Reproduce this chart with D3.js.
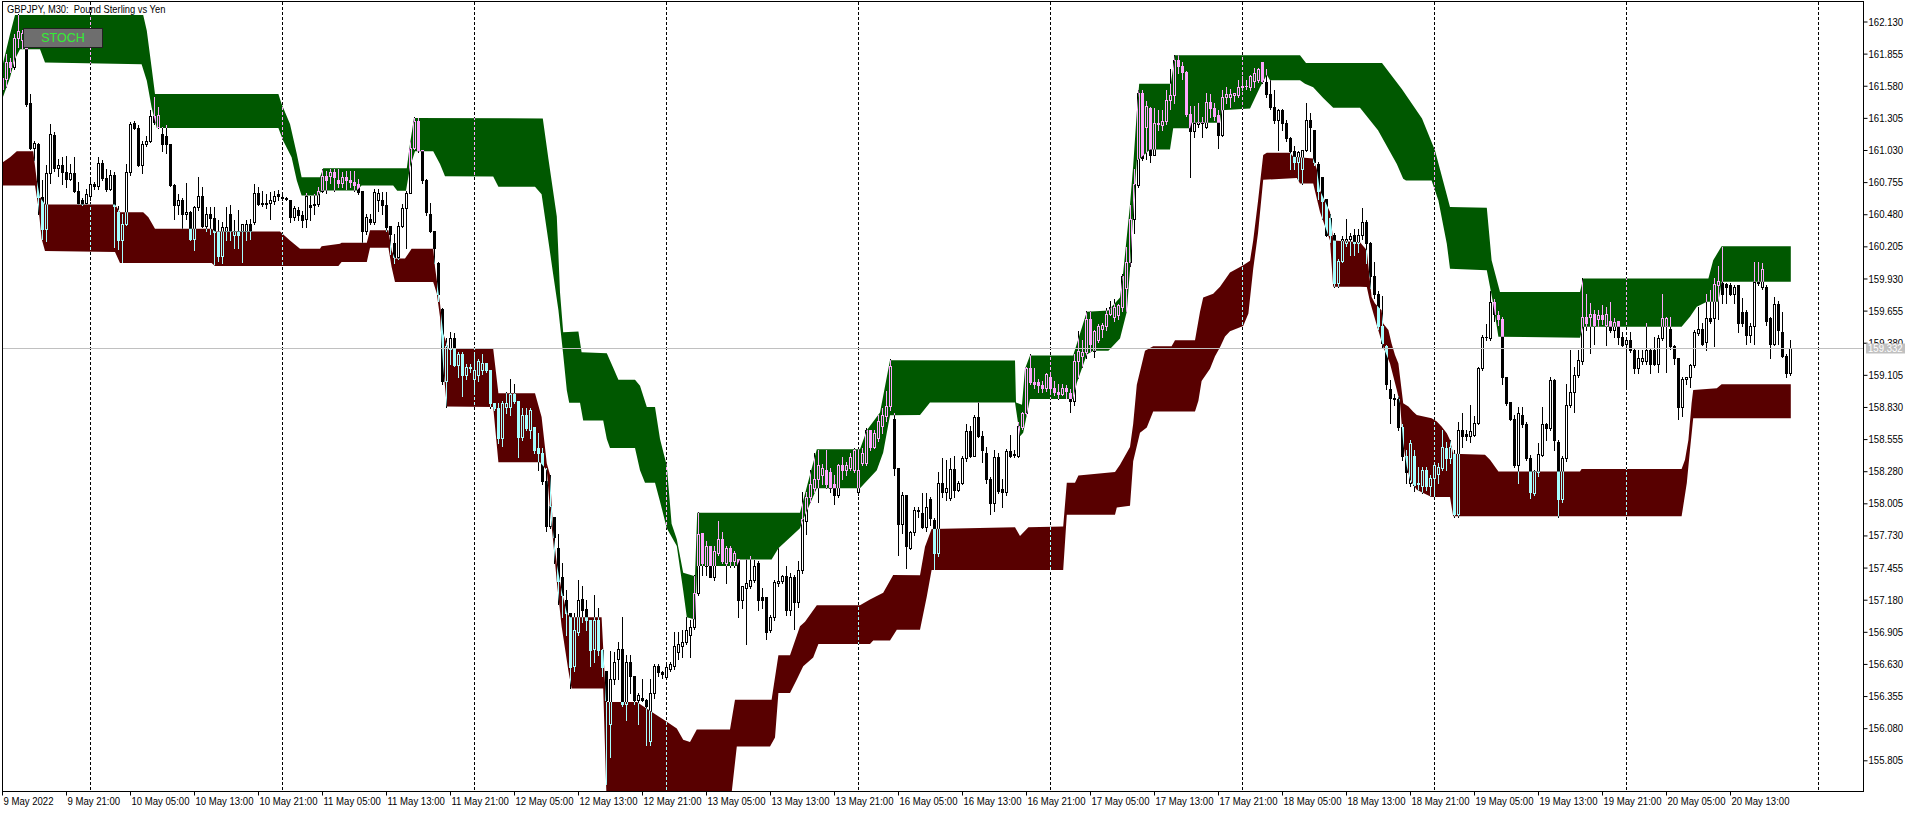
<!DOCTYPE html>
<html lang="en">
<head>
<meta charset="UTF-8">
<title>GBPJPY, M30</title>
<script src="https://cdnjs.cloudflare.com/ajax/libs/d3/7.8.5/d3.min.js"></script>
<style>
  html, body { margin: 0; padding: 0; background: #fff; overflow: hidden; }
  svg { display: block; }
  text { font-family: "Liberation Sans", Arial, sans-serif; }
</style>
</head>
<body>
<div id="chart"></div>
<script>
// M30 candles, one array per trading day, rows are [open, high, low, close]
var may09 = [
  [161.55,161.70,161.49,161.65],[161.64,161.85,161.57,161.78],[161.78,161.82,161.70,161.74],[161.74,162.02,161.72,161.99],
  [161.99,162.19,161.91,162.05],[161.97,162.06,161.90,162.03],[161.90,161.93,161.41,161.42],[161.43,161.51,161.04,161.05],
  [161.05,161.11,160.94,161.09],[161.08,161.09,160.48,160.63],[160.63,160.77,160.27,160.35],[160.35,160.90,160.25,160.83],
  [160.83,161.25,160.75,161.17],[161.16,161.18,160.85,160.88],[160.88,160.95,160.81,160.90],[160.90,160.97,160.74,160.84],
  [160.84,160.98,160.71,160.78],[160.78,160.91,160.77,160.83],[160.83,160.97,160.67,160.68],[160.68,160.76,160.57,160.58],
  [160.60,160.62,160.56,160.57],[160.58,160.70,160.57,160.65]
];
var may10 = [
  [160.64,160.80,160.60,160.74],[160.74,160.76,160.70,160.72],[160.72,160.97,160.70,160.92],[160.92,160.94,160.77,160.79],
  [160.79,160.87,160.68,160.70],[160.70,160.86,160.69,160.82],[160.82,160.84,160.20,160.55],[160.50,160.55,160.18,160.26],
  [160.26,160.48,160.07,160.40],[160.40,160.91,160.39,160.84],[160.84,161.27,160.82,161.25],[161.26,161.28,161.21,161.22],
  [161.22,161.24,160.89,160.90],[160.90,161.11,160.83,161.08],[161.08,161.15,161.06,161.11],[161.11,161.37,161.10,161.32],
  [161.32,161.48,161.25,161.27],[161.23,161.40,161.22,161.33],[161.17,161.23,161.02,161.08],[161.15,161.24,161.00,161.08],
  [161.08,161.08,160.72,160.73],[160.73,160.74,160.44,160.56],[160.56,160.65,160.48,160.60],[160.60,160.62,160.36,160.48],
  [160.48,160.75,160.44,160.50],[160.50,160.51,160.26,160.27],[160.27,160.55,160.17,160.54],[160.54,160.80,160.52,160.64],
  [160.64,160.71,160.37,160.38],[160.38,160.54,160.34,160.48],[160.48,160.54,160.31,160.45],[160.45,160.54,160.05,160.33],
  [160.33,160.43,160.08,160.12],[160.12,160.41,160.06,160.37],[160.34,160.54,160.26,160.37],[160.48,160.56,160.26,160.34],
  [160.30,160.43,160.19,160.34],[160.34,160.52,160.19,160.30],[160.34,160.40,160.07,160.40],[160.34,160.43,160.26,160.40],
  [160.40,160.44,160.27,160.34],[160.41,160.74,160.40,160.66],[160.66,160.71,160.56,160.57],[160.57,160.68,160.55,160.58],
  [160.57,160.65,160.53,160.58],[160.58,160.67,160.44,160.60],[160.59,160.68,160.57,160.64],[160.65,160.69,160.60,160.64]
];
var may11 = [
  [160.63,160.67,160.60,160.62],[160.62,160.63,160.60,160.61],[160.60,160.60,160.41,160.46],[160.46,160.55,160.43,160.53],
  [160.52,160.54,160.43,160.47],[160.47,160.51,160.37,160.43],[160.44,160.66,160.37,160.64],[160.56,160.64,160.43,160.54],
  [160.56,160.65,160.48,160.57],[160.57,160.71,160.55,160.68],[160.68,160.87,160.67,160.81],[160.81,160.85,160.66,160.77],
  [160.81,160.87,160.75,160.84],[160.84,160.87,160.68,160.80],[160.77,160.87,160.71,160.75],[160.75,160.84,160.71,160.80],
  [160.80,160.85,160.70,160.77],[160.77,160.85,160.71,160.76],[160.76,160.85,160.68,160.73],[160.74,160.78,160.65,160.67],
  [160.68,160.68,160.24,160.34],[160.34,160.48,160.31,160.46],[160.44,160.48,160.40,160.41],[160.41,160.70,160.40,160.67],
  [160.60,160.70,160.51,160.66],[160.60,160.67,160.48,160.56],[160.56,160.67,160.34,160.37],[160.38,160.38,160.14,160.31],
  [160.23,160.31,160.06,160.11],[160.11,160.41,160.10,160.38],[160.38,160.57,160.37,160.53],[160.53,160.68,160.19,160.66],
  [160.66,161.11,160.66,161.05],[161.05,161.31,161.04,161.28],[161.28,161.30,161.01,161.03],[161.03,161.03,160.75,160.77],
  [160.77,160.78,160.47,160.50],[160.48,160.58,160.33,160.34],[160.34,160.34,160.06,160.19],[160.06,160.07,159.74,159.80],
  [159.67,159.68,159.03,159.05],[159.05,159.42,158.83,159.35],[159.33,159.47,159.20,159.42],[159.42,159.46,159.18,159.19],
  [159.19,159.30,159.09,159.28],[159.28,159.30,158.92,159.10],[159.10,159.20,159.07,159.17],[159.17,159.20,159.13,159.16]
];
var may12 = [
  [159.07,159.28,158.94,159.15],[159.10,159.24,159.05,159.22],[159.15,159.28,159.11,159.21],[159.21,159.21,159.13,159.15],
  [159.15,159.15,158.82,158.86],[158.86,158.86,158.80,158.82],[158.82,158.86,158.52,158.56],[158.56,158.88,158.50,158.86],
  [158.83,158.96,158.78,158.86],[158.83,159.07,158.76,158.94],[158.94,159.03,158.86,158.88],[158.88,158.88,158.40,158.57],
  [158.57,158.82,158.55,158.76],[158.76,158.82,158.63,158.65],[158.63,158.82,158.56,158.80],[158.66,158.66,158.44,158.46],
  [158.48,158.61,158.29,158.44],[158.44,158.48,158.17,158.20],[158.20,158.31,157.77,157.81],[157.81,158.25,157.79,157.98],
  [157.89,157.89,157.49,157.72],[157.62,157.74,157.14,157.34],[157.37,157.49,157.03,157.22],[157.18,157.26,156.88,157.07],
  [157.07,157.07,156.42,156.60],[156.61,157.07,156.57,156.92],[156.90,157.35,156.88,157.18],[157.19,157.30,156.99,157.09],
  [157.10,157.18,156.92,157.01],[157.01,157.01,156.61,156.75],[156.76,157.22,156.65,157.01],[157.01,157.11,156.71,156.75],
  [156.75,156.76,156.53,156.60],[156.57,156.57,155.60,156.32],[156.12,156.74,155.83,156.50],[156.50,156.73,156.46,156.65],
  [156.67,156.82,156.50,156.76],[156.76,157.03,156.27,156.29],[156.29,156.71,156.15,156.65],[156.65,156.71,156.38,156.53],
  [156.53,156.53,156.29,156.32],[156.32,156.38,156.12,156.36],[156.34,156.50,156.31,156.32],[156.32,156.33,155.94,156.27],
  [155.97,156.50,155.94,156.38],[156.38,156.63,156.34,156.61],[156.61,156.63,156.53,156.56],[156.56,156.57,156.51,156.54]
];
var may13 = [
  [156.52,156.65,156.50,156.60],[156.59,156.65,156.57,156.63],[156.61,156.90,156.59,156.78],[156.73,156.90,156.67,156.80],
  [156.78,156.92,156.69,156.82],[156.82,157.03,156.80,156.92],[156.88,157.01,156.69,156.95],[156.95,157.39,156.93,157.24],
  [157.24,157.93,157.22,157.74],[157.75,157.75,157.39,157.49],[157.47,157.68,157.39,157.64],[157.64,157.64,157.37,157.37],
  [157.37,157.64,157.35,157.60],[157.58,157.85,157.56,157.70],[157.70,157.76,157.49,157.51],[157.49,157.64,157.32,157.62],
  [157.62,157.64,157.46,157.51],[157.51,157.60,157.46,157.58],[157.53,157.53,157.03,157.18],[157.18,157.30,157.11,157.30],
  [157.28,157.53,156.80,157.32],[157.30,157.55,157.28,157.35],[157.35,157.52,157.33,157.47],[157.49,157.51,157.09,157.18],
  [157.20,157.28,157.11,157.18],[157.20,157.20,156.84,156.90],[156.92,157.05,156.90,157.03],[157.03,157.35,157.01,157.33],
  [157.32,157.62,157.30,157.34],[157.34,157.39,157.32,157.38],[157.38,157.47,157.05,157.09],[157.09,157.41,157.05,157.37],
  [157.37,157.39,156.93,157.16],[157.16,157.51,157.12,157.43],[157.43,158.10,157.41,157.87],[157.85,158.10,157.74,158.06],
  [158.06,158.29,158.02,158.17],[158.14,158.44,158.10,158.21],[158.21,158.46,158.02,158.33],[158.25,158.34,158.17,158.31],
  [158.29,158.46,158.14,158.17],[158.27,158.31,158.10,158.14],[158.17,158.25,158.00,158.08],[158.08,158.34,158.06,158.33],
  [158.33,158.40,158.21,158.29],[158.29,158.36,158.25,158.33],[158.31,158.44,158.29,158.40],[158.29,158.48,158.27,158.46]
];
var may16 = [
  [158.10,158.48,158.08,158.29],[158.35,158.48,158.33,158.44],[158.35,158.65,158.33,158.63],[158.63,158.63,158.46,158.49],
  [158.49,158.63,158.48,158.61],[158.56,158.76,158.54,158.71],[158.67,158.82,158.61,158.76],[158.75,158.97,158.71,158.84],
  [158.84,159.24,158.80,159.18],[158.73,158.78,158.25,158.31],[158.31,158.31,157.56,157.83],[157.83,158.10,157.75,158.08],
  [158.08,158.08,157.45,157.64],[157.62,157.77,157.61,157.76],[157.76,157.97,157.73,157.95],[157.94,157.97,157.89,157.95],
  [157.92,158.09,157.79,157.80],[157.80,158.09,157.77,157.97],[158.04,158.06,157.82,157.88],[157.86,157.88,157.44,157.58],
  [157.58,158.27,157.55,158.18],[158.18,158.39,158.06,158.10],[158.10,158.38,158.03,158.14],[158.05,158.39,158.03,158.30],
  [158.30,158.41,158.06,158.12],[158.12,158.20,158.11,158.18],[158.18,158.41,158.17,158.39],[158.39,158.68,158.37,158.62],
  [158.62,158.67,158.40,158.41],[158.41,158.76,158.41,158.74],[158.74,158.87,158.57,158.58],[158.58,158.62,158.36,158.46],
  [158.44,158.49,158.18,158.21],[158.21,158.23,157.91,158.01],[158.01,158.46,157.94,158.40],[158.40,158.44,158.09,158.11],
  [158.13,158.21,157.97,158.10],[158.10,158.47,158.08,158.45],[158.45,158.59,158.40,158.41],[158.42,158.46,158.40,158.43],
  [158.41,158.70,158.40,158.67],[158.66,158.79,158.64,158.78],[158.78,159.17,158.76,159.16],[159.16,159.28,159.03,159.04],
  [159.04,159.16,158.99,159.03],[159.04,159.07,158.96,159.02],[159.02,159.05,158.96,158.99],[158.99,159.12,158.97,159.11]
];
var may17 = [
  [159.09,159.10,158.94,158.99],[158.99,159.05,158.93,158.96],[158.96,159.03,158.90,158.94],[158.94,159.03,158.93,158.99],
  [158.99,159.02,158.91,158.97],[158.95,158.98,158.79,158.88],[158.88,159.28,158.85,159.22],[159.22,159.48,159.08,159.31],
  [159.27,159.40,159.17,159.30],[159.30,159.65,159.25,159.58],[159.58,159.65,159.31,159.37],[159.31,159.49,159.26,159.48],
  [159.40,159.54,159.39,159.52],[159.50,159.55,159.43,159.53],[159.52,159.68,159.49,159.63],[159.63,159.74,159.62,159.69],
  [159.60,159.75,159.57,159.69],[159.62,159.71,159.58,159.70],[159.69,159.97,159.65,159.95],[159.85,160.20,159.65,160.07],
  [160.07,160.56,160.04,160.44],[160.44,160.87,160.32,160.74],[160.73,161.54,160.71,161.52],[161.52,161.54,160.94,160.96],
  [161.23,161.45,160.95,161.41],[161.39,161.40,160.93,160.99],[160.99,161.39,160.99,161.26],[161.26,161.37,161.20,161.25],
  [161.24,161.37,161.20,161.28],[161.28,161.54,161.25,161.46],[161.46,161.72,161.38,161.50],[161.50,161.84,161.43,161.80],
  [161.80,161.84,161.69,161.75],[161.75,161.78,161.64,161.70],[161.70,161.71,161.32,161.34],[161.34,161.41,160.80,161.19],
  [161.19,161.41,161.14,161.26],[161.25,161.43,161.23,161.27],[161.27,161.31,161.14,161.26],[161.23,161.52,161.22,161.44],
  [161.44,161.51,161.31,161.39],[161.39,161.43,161.29,161.32],[161.33,161.37,161.05,161.16],[161.16,161.54,161.15,161.48],
  [161.48,161.57,161.43,161.51],[161.48,161.55,161.40,161.51],[161.50,161.52,161.45,161.52],[161.50,161.63,161.48,161.57]
];
var may18 = [
  [161.57,161.66,161.54,161.58],[161.58,161.63,161.55,161.58],[161.57,161.67,161.54,161.66],[161.62,161.73,161.57,161.69],
  [161.63,161.73,161.61,161.72],[161.78,161.78,161.60,161.62],[161.61,161.72,161.48,161.51],[161.51,161.63,161.38,161.40],
  [161.40,161.54,161.26,161.29],[161.29,161.38,161.03,161.37],[161.37,161.38,161.20,161.26],[161.26,161.29,161.11,161.13],
  [161.13,161.14,160.87,161.02],[161.02,161.06,160.87,160.93],[160.93,161.02,160.77,161.01],[160.87,161.03,160.74,161.03],
  [161.03,161.43,161.02,161.29],[161.29,161.35,161.02,161.23],[161.20,161.20,160.90,160.93],[160.91,160.93,160.61,160.68],
  [160.80,160.80,160.44,160.59],[160.61,160.61,160.29,160.30],[160.45,160.48,160.24,160.30],[160.30,160.32,159.86,159.89],
  [159.89,160.10,159.86,160.08],[160.08,160.29,160.07,160.27],[160.23,160.44,160.21,160.27],[160.27,160.32,160.13,160.29],
  [160.30,160.35,160.13,160.23],[160.23,160.35,160.16,160.30],[160.30,160.53,160.27,160.41],[160.41,160.43,160.06,160.23],
  [160.23,160.24,159.85,159.95],[159.95,160.07,159.76,159.80],[159.80,159.82,159.50,159.52],[159.52,159.78,159.34,159.38],
  [159.35,159.36,158.98,159.03],[158.98,159.06,158.69,158.91],[158.91,158.94,158.85,158.90],[158.90,158.92,158.63,158.66],
  [158.66,158.68,158.38,158.41],[158.41,158.46,158.18,158.27],[158.18,158.55,158.15,158.52],[158.41,158.46,158.11,158.16],
  [158.17,158.32,158.12,158.18],[158.15,158.32,158.09,158.29],[158.29,158.32,158.12,158.15],[158.15,158.25,158.07,158.22]
];
var may19 = [
  [158.22,158.35,158.07,158.33],[158.26,158.35,158.18,158.32],[158.31,158.63,158.29,158.49],[158.48,158.53,158.29,158.39],
  [158.39,158.55,158.35,158.49],[158.43,158.46,157.89,157.91],[157.91,158.70,157.89,158.63],[158.63,158.78,158.49,158.58],
  [158.60,158.63,158.55,158.58],[158.58,158.85,158.53,158.62],[158.59,158.75,158.58,158.69],[158.69,159.17,158.68,159.16],
  [159.16,159.45,159.15,159.43],[159.43,159.54,159.40,159.43],[159.42,159.82,159.40,159.73],[159.73,159.75,159.57,159.63],
  [159.62,159.65,159.53,159.58],[159.58,159.60,159.03,159.09],[159.09,159.09,158.85,158.86],[158.87,158.87,158.72,158.73],
  [158.73,158.76,158.32,158.33],[158.33,158.83,158.18,158.78],[158.76,158.83,158.66,158.68],[158.68,158.70,158.38,158.39],
  [158.39,158.42,158.05,158.10],[158.09,158.29,158.08,158.28],[158.27,158.52,158.24,158.43],[158.42,158.83,158.41,158.68],
  [158.68,158.69,158.55,158.65],[158.65,159.09,158.63,159.06],[159.06,159.07,158.46,158.55],[158.53,158.55,157.89,158.04],
  [158.04,158.41,158.02,158.39],[158.39,159.03,158.37,158.85],[158.85,159.32,158.83,158.96],[158.96,159.17,158.79,159.10],
  [159.10,159.32,159.09,159.23],[159.22,159.93,159.20,159.60],[159.60,159.80,159.49,159.55],[159.60,159.72,159.29,159.63],
  [159.63,159.66,159.37,159.53],[159.58,159.66,159.52,159.62],[159.62,159.70,159.54,159.58],[159.53,159.69,159.36,159.63],
  [159.57,159.73,159.47,159.49],[159.49,159.59,159.43,159.56],[159.57,159.57,159.37,159.43],[159.43,159.47,159.35,159.36]
];
var may20 = [
  [159.37,159.43,159.00,159.40],[159.40,159.47,159.30,159.32],[159.32,159.33,159.12,159.16],[159.16,159.32,159.12,159.25],
  [159.22,159.32,159.20,159.25],[159.22,159.55,159.20,159.32],[159.32,159.33,159.12,159.20],[159.32,159.43,159.19,159.20],
  [159.20,159.45,159.13,159.42],[159.42,159.80,159.40,159.59],[159.52,159.60,159.13,159.59],[159.50,159.60,159.33,159.35],
  [159.35,159.36,159.20,159.25],[159.25,159.25,158.73,158.83],[158.83,159.09,158.75,159.07],[159.07,159.09,159.03,159.09],
  [159.09,159.20,159.00,159.19],[159.19,159.49,159.17,159.47],[159.46,159.69,159.45,159.50],[159.50,159.55,159.36,159.37],
  [159.39,159.80,159.32,159.59],[159.59,159.83,159.55,159.57],[159.59,159.93,159.35,159.88],[159.87,160.04,159.58,159.91],
  [159.89,160.20,159.72,159.80],[159.88,159.89,159.72,159.86],[159.87,159.89,159.79,159.80],[159.80,159.87,159.72,159.86],
  [159.87,159.87,159.47,159.55],[159.64,159.76,159.52,159.55],[159.64,159.66,159.37,159.45],[159.45,159.55,159.39,159.52],
  [159.52,160.07,159.37,159.90],[159.90,160.07,159.87,159.89],[159.86,160.06,159.84,160.01],[159.86,159.87,159.53,159.57],
  [159.59,159.60,159.25,159.37],[159.37,159.77,159.36,159.71],[159.71,159.74,159.37,159.49],[159.47,159.64,159.26,159.27],
  [159.27,159.28,159.09,159.12],[159.12,159.40,159.10,159.332]
];

// channel indicator, edges as [bar, price] break points
var greenTop = [[-1,161.70],[0.2,161.765],[2,162.02],[3.25,162.186],[35.3,162.186],[36.2,162.05],[37.4,161.736],[38.25,161.509],
  [69.1,161.509],[69.9,161.423],[72,161.252],[73.7,160.996],[74.9,160.797],[79.5,160.797],[80.3,160.874],[101.2,160.874],
  [102,161.082],[103,161.304],[135.2,161.30],[136.6,160.956],[138.7,160.461],[139.5,159.813],[140.3,159.47],[144.1,159.477],
  [144.9,159.298],[151.2,159.29],[152.8,159.165],[154.1,159.062],[158.25,159.062],[159.5,159.012],[161.2,158.829],[163.25,158.829],
  [164.5,158.555],[166.2,158.326],[167.4,157.83],[168.7,157.697],[170.3,157.411],[173.25,157.38],[173.8,157.925],[199.5,157.925],
  [203.7,158.467],[214.5,158.467],[216.2,158.631],[219.5,158.783],[222,159.229],[253.25,159.228],[253.5,158.869],[255,158.85],
  [255.75,159.158],[257,159.271],[267.8,159.271],[271.2,159.646],[276.6,159.655],[279.5,159.768],[280.3,159.982],[282,160.561],
  [282.8,160.897],[283.7,161.354],[284.3,161.598],[292.2,161.598],[293.25,161.842],[324.5,161.842],[326,161.775],[345,161.775],
  [350,161.55],[355,161.3],[358.25,161.025],[362,160.541],[371.2,160.535],[372.4,160.086],[374.5,159.815],[394.5,159.815],
  [395.3,159.929],[426.6,159.929],[427.8,160.086],[429.9,160.205],[447.2,160.205]];
var greenBottom = [[-1,161.45],[0.2,161.48],[2,161.651],[3.25,161.808],[4.5,161.893],[9.5,161.893],[10.75,161.779],[34.9,161.765],
  [36.2,161.623],[37.4,161.395],[38.7,161.218],[69.1,161.218],[70.3,161.11],[72.4,160.968],[73.7,160.769],[74.9,160.641],
  [79.1,160.641],[79.9,160.683],[88.7,160.683],[89.9,160.726],[97.8,160.726],[98.8,160.68],[101,160.68],[102,160.882],
  [103.25,161.019],[107.8,161.019],[109.5,160.911],[110.75,160.806],[122.8,160.804],[124.1,160.716],[133.25,160.716],[134.9,160.651],
  [136.2,160.346],[137.8,159.965],[139.1,159.66],[140.3,159.279],[141.2,158.974],[141.8,158.867],[144.5,158.867],[145.3,158.715],
  [150.3,158.715],[151.2,158.555],[152,158.478],[158.25,158.478],[159.5,158.288],[160.75,158.181],[163.25,158.181],[164.5,158.021],
  [166.2,157.792],[168.7,157.64],[170.3,157.258],[171.2,157.03],[173.25,157.011],[173.8,157.468],[183.7,157.468],[184.5,157.525],
  [192.4,157.525],[194.1,157.62],[199.5,157.792],[200.3,157.868],[203.7,158.135],[214.5,158.135],[218.7,158.288],[220.3,158.44],
  [222,158.76],[229.5,158.762],[232,158.869],[253.25,158.869],[254.5,158.579],[255.3,158.61],[256.2,158.762],[257,158.899],
  [267.8,158.899],[268.7,159.036],[271.2,159.28],[272.8,159.311],[276.6,159.311],[279.5,159.417],[281.2,159.646],[282,160.012],
  [282.8,160.5],[283.7,160.942],[284.5,160.958],[287,161.034],[292,161.034],[292.8,161.217],[297,161.217],[297.4,161.263],
  [304.5,161.263],[304.9,161.37],[312,161.385],[314.5,161.568],[316.2,161.674],[317,161.628],[324.5,161.628],[325.75,161.598],
  [327.8,161.568],[330.3,161.476],[332.8,161.391],[339.5,161.391],[344,161.2],[348.7,160.911],[350.3,160.783],[351,160.769],
  [357.4,160.769],[359.1,160.598],[361.2,160.228],[362,160.014],[371.2,160.0],[372.8,159.716],[374.1,159.431],[394.5,159.422],
  [395.3,159.516],[419.9,159.516],[422,159.602],[423.7,159.687],[426.2,159.73],[429.1,159.73],[429.9,159.901],[447.2,159.901]];
var redTop = [[-1,160.90],[0.2,160.925],[2,160.968],[3.7,161.019],[7.8,161.019],[8.7,160.769],[9.5,160.626],[10.75,160.564],
  [28.25,160.564],[29.5,160.498],[35.3,160.498],[36.6,160.455],[38.25,160.356],[52.4,160.356],[53.25,160.333],[69.5,160.333],
  [72,160.256],[74.5,160.185],[79.5,160.185],[79.9,160.205],[84.5,160.228],[84.9,160.236],[91.2,160.236],[92,160.342],
  [96.6,160.342],[97.4,160.171],[98.25,160.1],[100.75,160.1],[102.4,160.185],[107.8,160.185],[108.25,160.029],[109.5,159.715],
  [110.3,159.459],[111.6,159.331],[122.8,159.328],[124.1,158.947],[133.25,158.947],[134.9,158.745],[136.2,158.345],[137,158.25],
  [137.8,157.754],[138.7,157.487],[139.9,157.258],[141.2,157.068],[142,157.03],[149.9,157.03],[151,156.305],[158.7,156.305],
  [160.3,156.267],[163.7,156.191],[166.2,156.134],[168.7,156.077],[170.3,155.981],[172,155.962],[173.7,156.069],[182,156.069],
  [183.25,156.324],[192.4,156.324],[194.1,156.705],[197,156.705],[199.5,156.953],[200.75,156.991],[203.7,157.133],[214.5,157.133],
  [217,157.182],[220.3,157.239],[222.8,157.392],[229.5,157.39],[230.75,157.633],[232.4,157.786],[253.25,157.801],[254.5,157.725],
  [256.6,157.801],[265.3,157.807],[266.2,158.182],[268.25,158.182],[269.1,158.243],[278.25,158.274],[279.5,158.335],[282,158.487],
  [282.8,158.686],[283.7,159.021],[285.75,159.311],[287.8,159.35],[292.4,159.35],[293.25,159.402],[298.25,159.402],[299.5,159.646],
  [300.3,159.768],[302.8,159.799],[304.5,159.86],[307,159.982],[310.3,160.043],[312,160.082],[312.8,160.256],[314,160.592],
  [315.3,160.988],[316.2,161.006],[322,161.006],[322.8,160.973],[327.8,160.958],[328.7,160.866],[329.5,160.683],[330.75,160.592],
  [332,160.50],[332.8,160.256],[339.5,160.241],[341.2,160.171],[342.4,159.772],[343.25,159.716],[344.9,159.659],[345.3,159.545],
  [346.6,159.488],[347.4,159.374],[348.25,159.274],[349.1,159.203],[349.5,159.089],[350.3,158.862],[351.6,158.833],[352.8,158.79],
  [353.7,158.762],[357.4,158.733],[358.7,158.705],[359.9,158.662],[361.2,158.605],[362,158.548],[362.8,158.429],[370.75,158.42],
  [372,158.378],[374.1,158.278],[394.5,158.278],[394.9,158.298],[419.9,158.298],[420.75,158.378],[421.6,158.548],[422.4,158.862],
  [422.8,158.975],[428.7,158.99],[429.9,159.024],[447.2,159.024]];
var redBottom = [[-1,160.726],[8.25,160.726],[9.1,160.541],[9.9,160.27],[10.75,160.165],[28.25,160.157],[29.5,160.063],[52.4,160.063],
  [53.25,160.037],[84.1,160.037],[84.9,160.071],[91.2,160.071],[92,160.194],[96.6,160.194],[97.4,160.029],[98.25,159.9],
  [107.8,159.9],[108.7,159.801],[109.5,159.601],[110.3,159.175],[111.2,158.833],[122.8,158.829],[124.1,158.356],[134.5,158.356],
  [136.2,158.288],[137,157.945],[137.8,157.678],[138.7,157.335],[139.9,156.953],[141.6,156.572],[142.4,156.42],[150.3,156.42],
  [151.2,155.40],[182,155.40],[183.7,155.924],[192,155.924],[193.25,156.0],[194.1,156.381],[197,156.381],[198.7,156.496],
  [200.3,156.61],[202.8,156.686],[204.1,156.801],[217,156.801],[217.8,156.831],[222,156.831],[223.7,156.923],[229.5,156.923],
  [231.2,157.207],[232.4,157.435],[265.3,157.435],[266.2,157.908],[278.25,157.908],[278.7,157.969],[282,157.984],[282.8,158.365],
  [284.5,158.609],[286.2,158.655],[287.8,158.792],[298.25,158.792],[299.1,158.884],[299.9,159.052],[302,159.158],[303.25,159.265],
  [304.5,159.341],[305.75,159.433],[307,159.478],[310.3,159.524],[311.6,159.631],[312.8,160.012],[314,160.317],[315.3,160.775],
  [323.7,160.79],[324.5,160.744],[327.8,160.744],[329.5,160.50],[332,160.256],[332.8,159.86],[339.5,159.86],[341.2,159.858],
  [342,159.73],[343.7,159.53],[345.3,159.346],[347,159.203],[348.7,158.975],[349.5,158.862],[350.3,158.52],[351.2,158.321],
  [352,158.207],[353.7,158.121],[355.3,158.093],[357.4,158.059],[362,158.059],[362.8,157.894],[419.9,157.894],[420.3,157.979],
  [421.2,158.178],[422,158.463],[422.8,158.733],[447.2,158.733]];

var priceTicks = ['162.130','161.855','161.580','161.305','161.030','160.755','160.480','160.205','159.930','159.655','159.380','159.105',
  '158.830','158.555','158.280','158.005','157.730','157.455','157.180','156.905','156.630','156.355','156.080','155.805'];
var timeLabels = ['9 May 2022','9 May 21:00','10 May 05:00','10 May 13:00','10 May 21:00','11 May 05:00','11 May 13:00',
  '11 May 21:00','12 May 05:00','12 May 13:00','12 May 21:00','13 May 05:00','13 May 13:00','13 May 21:00','16 May 05:00',
  '16 May 13:00','16 May 21:00','17 May 05:00','17 May 13:00','17 May 21:00','18 May 05:00','18 May 13:00','18 May 21:00',
  '19 May 05:00','19 May 13:00','19 May 21:00','20 May 05:00','20 May 13:00'];
var lastPrice = 159.332;

var days = [may09, may10, may11, may12, may13, may16, may17, may18, may19, may20];
var bars = [].concat.apply([], days);

// day separator bars (start of each full day, plus the next one to the right)
var dayStarts = [];
var n = may09.length;
for (var k = 1; k < days.length; k++) { dayStarts.push(n); n += days[k].length; }
dayStarts.push(dayStarts[dayStarts.length - 1] + 48);

var W = 1916, H = 813;
var plot = { left: 2, top: 2, right: 1863, bottom: 791 };

var x = d3.scaleLinear().domain([0, 1]).range([2, 6]);          // 4 px per bar
var y = d3.scaleLinear().domain([155.805, 162.13]).range([760.3, 21.5]);

// narrow the default sans a little so it sits like the terminal font
function squeeze(sel, k) {
  sel.each(function () {
    var len = this.getComputedTextLength();
    d3.select(this).attr('textLength', len * k).attr('lengthAdjust', 'spacingAndGlyphs');
  });
}

var svg = d3.select('#chart').append('svg')
  .attr('width', W).attr('height', H);

svg.append('clipPath').attr('id', 'plotclip')
  .append('rect')
  .attr('x', plot.left).attr('y', plot.top)
  .attr('width', plot.right - plot.left).attr('height', plot.bottom - plot.top);

var g = svg.append('g')
  .style('isolation', 'isolate')
  .attr('clip-path', 'url(#plotclip)');

g.append('rect').attr('width', W).attr('height', H).attr('fill', '#fff');

// period separators
g.selectAll('line.sep')
  .data(dayStarts)
  .enter()
  .append('line')
  .attr('class', 'sep')
  .attr('x1', function (d) { return Math.round(x(d)) + 0.5; })
  .attr('x2', function (d) { return Math.round(x(d)) + 0.5; })
  .attr('y1', plot.top)
  .attr('y2', plot.bottom)
  .attr('stroke', '#000')
  .attr('stroke-dasharray', '3,2');

// candles
var candle = g.selectAll('g.candle')
  .data(bars)
  .enter()
  .append('g')
  .attr('class', 'candle')
  .attr('shape-rendering', 'crispEdges');

candle.append('line')
  .attr('x1', function (d, i) { return Math.round(x(i)) + 0.5; })
  .attr('x2', function (d, i) { return Math.round(x(i)) + 0.5; })
  .attr('y1', function (d) { return Math.round(y(d[1])); })
  .attr('y2', function (d) { return Math.round(y(d[2])) + 1; })
  .attr('stroke', '#000');

candle.append('rect')
  .each(function (d, i) {
    var px = Math.round(x(i));
    var t = Math.round(y(Math.max(d[0], d[3])));
    var b = Math.round(y(Math.min(d[0], d[3])));
    var el = d3.select(this);
    if (d[3] > d[0] && b - t >= 2) {
      el.attr('x', px - 0.5).attr('y', t + 0.5)
        .attr('width', 2).attr('height', b - t)
        .attr('fill', '#fff').attr('stroke', '#000');
    } else {
      el.attr('x', px - 1).attr('y', t)
        .attr('width', 3).attr('height', Math.max(1, b - t + 1))
        .attr('fill', '#000');
    }
  });

// channel bands, drawn with difference blending so candles inside show inverted
function bandPath(topEdge, bottomEdge) {
  var pts = topEdge.concat(bottomEdge.slice().reverse());
  return d3.line()
    .x(function (p) { return x(p[0]); })
    .y(function (p) { return y(p[1]); })(pts) + 'Z';
}

g.append('path')
  .attr('d', bandPath(greenTop, greenBottom))
  .attr('fill', '#ffa7ff')
  .style('mix-blend-mode', 'difference');

g.append('path')
  .attr('d', bandPath(redTop, redBottom))
  .attr('fill', '#a7ffff')
  .style('mix-blend-mode', 'difference');

// bid line
var yBid = Math.round(y(lastPrice)) + 0.5;
svg.append('line')
  .attr('x1', plot.left).attr('x2', plot.right)
  .attr('y1', yBid).attr('y2', yBid)
  .attr('stroke', '#c0c0c0');

// frame
svg.append('rect')
  .attr('x', plot.left + 0.5).attr('y', plot.top - 0.5)
  .attr('width', plot.right - plot.left).attr('height', plot.bottom - plot.top + 1)
  .attr('fill', 'none').attr('stroke', '#000')
  .attr('shape-rendering', 'crispEdges');

// price axis
var yAxis = d3.axisRight(y)
  .tickValues(priceTicks.map(Number))
  .tickFormat(d3.format('.3f'))
  .tickSize(4)
  .tickPadding(1);

var ya = svg.append('g')
  .attr('transform', 'translate(' + (plot.right + 0.5) + ',0)')
  .call(yAxis);
ya.select('.domain').remove();
ya.selectAll('text').style('font-size', '11px').attr('fill', '#000');
ya.selectAll('line').attr('stroke', '#000');
squeeze(ya.selectAll('text'), 0.87);

// time axis
var xAxis = d3.axisBottom(x)
  .tickValues(timeLabels.map(function (s, i) { return i * 16; }))
  .tickFormat(function (d, i) { return timeLabels[i]; })
  .tickSize(4)
  .tickPadding(2);

var xa = svg.append('g')
  .attr('transform', 'translate(0,' + (plot.bottom + 0.5) + ')')
  .call(xAxis);
xa.select('.domain').remove();
xa.selectAll('text')
  .attr('text-anchor', 'start')
  .attr('dx', 1)
  .style('font-size', '11px')
  .attr('fill', '#000');
xa.selectAll('line').attr('stroke', '#000');
squeeze(xa.selectAll('text'), 0.87);

// bid label
svg.append('rect')
  .attr('x', plot.right + 3).attr('y', yBid - 5)
  .attr('width', 39).attr('height', 10)
  .attr('fill', '#c0c0c0');
var bidText = svg.append('text')
  .attr('x', plot.right + 5).attr('y', yBid)
  .attr('dy', '0.35em')
  .style('font-size', '11px')
  .attr('fill', '#fff')
  .text(d3.format('.3f')(lastPrice));
squeeze(bidText, 0.87);

// title
var title = svg.append('text')
  .attr('x', 7).attr('y', 13)
  .style('font-size', '11px')
  .style('white-space', 'pre')
  .attr('fill', '#000')
  .text('GBPJPY, M30:  Pound Sterling vs Yen');
squeeze(title, 0.85);

// STOCH button
svg.append('rect')
  .attr('x', 23.5).attr('y', 28.5)
  .attr('width', 79).attr('height', 19)
  .attr('fill', '#6e6e6e').attr('stroke', '#222');
svg.append('text')
  .attr('x', 63).attr('y', 38)
  .attr('dy', '0.35em')
  .attr('text-anchor', 'middle')
  .style('font-size', '12.5px')
  .attr('fill', '#33ee33')
  .text('STOCH');
</script>
</body>
</html>
